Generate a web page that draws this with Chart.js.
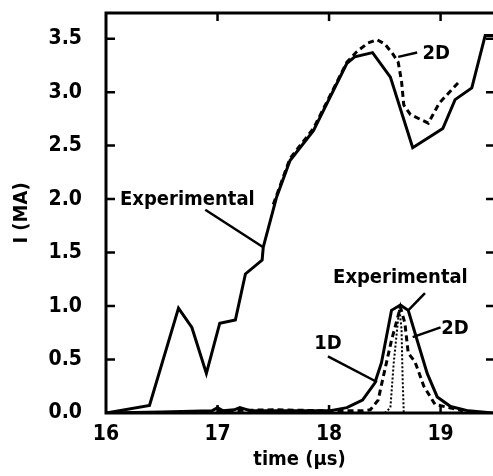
<!DOCTYPE html>
<html>
<head>
<meta charset="utf-8">
<script src="https://cdn.jsdelivr.net/npm/chart.js@4"></script>
<style>
    html, body { margin: 0; padding: 0; background: #fff; overflow: hidden; }
</style>
</head>
<body>
<canvas id="chart" width="493" height="476"></canvas>
<script>
// current, upper curves
const expCurrentTime = [16.0, 16.39, 16.65, 16.77, 16.90, 17.02, 17.16, 17.25, 17.40, 17.41, 17.53, 17.65, 17.86, 18.16, 18.23, 18.39, 18.55, 18.75, 19.02, 19.13, 19.28, 19.40, 19.47];
const expCurrent = [0.0, 0.07, 0.98, 0.80, 0.37, 0.84, 0.87, 1.30, 1.43, 1.55, 2.02, 2.36, 2.64, 3.27, 3.33, 3.37, 3.14, 2.48, 2.66, 2.93, 3.04, 3.53, 3.53];
const sim2dCurrentTime = [17.50, 17.65, 17.86, 18.16, 18.25, 18.35, 18.43, 18.50, 18.57, 18.62, 18.65, 18.67, 18.73, 18.89, 18.99, 19.16];
const sim2dCurrent = [1.95, 2.38, 2.66, 3.28, 3.38, 3.46, 3.49, 3.45, 3.36, 3.28, 3.10, 2.88, 2.79, 2.71, 2.90, 3.09];

// pulse, lower curves
const expPulseTime = [16.0, 16.5, 16.95, 17.0, 17.05, 17.15, 17.2, 17.3, 17.6, 18.0, 18.16, 18.30, 18.41, 18.47, 18.56, 18.64, 18.71, 18.79, 18.88, 18.97, 19.09, 19.25, 19.47];
const expPulse = [0.0, 0.01, 0.02, 0.05, 0.02, 0.03, 0.05, 0.02, 0.02, 0.02, 0.05, 0.12, 0.28, 0.47, 0.96, 1.01, 0.96, 0.68, 0.37, 0.15, 0.06, 0.02, 0.0];
const sim2dPulseTime = [17.0, 17.5, 18.0, 18.30, 18.37, 18.44, 18.48, 18.56, 18.64, 18.68, 18.71, 18.77, 18.85, 18.95, 19.2];
const sim2dPulse = [0.02, 0.03, 0.02, 0.02, 0.03, 0.12, 0.31, 0.68, 0.99, 0.84, 0.56, 0.48, 0.25, 0.08, 0.02];
const sim1dPulseTime = [18.50, 18.55, 18.58, 18.61, 18.63, 18.65, 18.66, 18.67];
const sim1dPulse = [0.0, 0.05, 0.47, 0.78, 0.99, 0.78, 0.31, 0.0];

const xTicks = [16, 17, 18, 19];
const yTicks = [0, 0.5, 1.0, 1.5, 2.0, 2.5, 3.0, 3.5];

// text labels with leader lines, in data units
const notes = [
    {text: 'Experimental', x: 16.73, y: 1.99, from: [16.89, 1.90], to: [17.41, 1.55]},
    {text: '2D', x: 18.96, y: 3.36, from: [18.62, 3.33], to: [18.79, 3.37]},
    {text: 'Experimental', x: 18.64, y: 1.26, from: [18.86, 1.12], to: [18.71, 0.96]},
    {text: '2D', x: 19.13, y: 0.79, from: [19.0, 0.80], to: [18.75, 0.71]},
    {text: '1D', x: 17.99, y: 0.65, from: [17.99, 0.53], to: [18.43, 0.29]}
];

const FONT = '"DejaVu Sans Condensed", "Liberation Sans Narrow", sans-serif';
Chart.defaults.font.family = FONT;
Chart.defaults.color = '#000';

const pts = (xs, ys) => xs.map((x, i) => ({x: x, y: ys[i]}));

const line = (label, xs, ys, dash, width) => ({
    label: label,
    data: pts(xs, ys),
    borderColor: '#000',
    borderWidth: width,
    borderDash: dash,
    pointRadius: 0,
    tension: 0,
    fill: false
});

const frame = {
    id: 'frame',
    afterDatasetsDraw(chart) {
        const ctx = chart.ctx;
        const a = chart.chartArea;
        const xs = chart.scales.x, ys = chart.scales.y;
        ctx.save();
        ctx.strokeStyle = '#000';
        ctx.lineWidth = 3;
        ctx.lineCap = 'square';
        ctx.beginPath();
        ctx.moveTo(a.right, a.top);
        ctx.lineTo(a.left, a.top);
        ctx.lineTo(a.left, a.bottom);
        ctx.lineTo(a.right, a.bottom);
        ctx.stroke();
        ctx.lineWidth = 2.5;
        ctx.lineCap = 'butt';
        ctx.beginPath();
        xTicks.forEach(v => {
            const px = xs.getPixelForValue(v);
            if (v > 16) {
                ctx.moveTo(px, a.top);
                ctx.lineTo(px, a.top + 8);
                ctx.moveTo(px, a.bottom);
                ctx.lineTo(px, a.bottom - 8);
            }
        });
        yTicks.forEach(v => {
            const py = ys.getPixelForValue(v);
            if (v > 0) {
                ctx.moveTo(a.left, py);
                ctx.lineTo(a.left + 9, py);
                ctx.moveTo(a.right - 7, py);
                ctx.lineTo(a.right, py);
            }
        });
        ctx.stroke();

        ctx.font = 'bold 20px ' + FONT;
        ctx.fillStyle = '#000';
        ctx.textAlign = 'center';
        ctx.textBaseline = 'middle';
        ctx.lineWidth = 2.5;
        notes.forEach(n => {
            ctx.fillText(n.text, xs.getPixelForValue(n.x), ys.getPixelForValue(n.y));
            ctx.beginPath();
            ctx.moveTo(xs.getPixelForValue(n.from[0]), ys.getPixelForValue(n.from[1]));
            ctx.lineTo(xs.getPixelForValue(n.to[0]), ys.getPixelForValue(n.to[1]));
            ctx.stroke();
        });
        ctx.restore();
    }
};

new Chart(document.getElementById('chart'), {
    type: 'line',
    data: {
        datasets: [
            line('Experimental', expCurrentTime, expCurrent, [], 3),
            line('2D', sim2dCurrentTime, sim2dCurrent, [6, 4], 3),
            line('Experimental pulse', expPulseTime, expPulse, [], 3),
            line('2D pulse', sim2dPulseTime, sim2dPulse, [6, 4], 3),
            line('1D pulse', sim1dPulseTime, sim1dPulse, [2, 2], 2)
        ]
    },
    options: {
        responsive: false,
        animation: false,
        layout: {padding: {top: 13, right: 0, left: 0, bottom: 0}},
        plugins: {
            legend: {display: false},
            tooltip: {enabled: false}
        },
        scales: {
            x: {
                type: 'linear',
                min: 16,
                max: 19.47,
                afterFit: s => { s.height = 63; s.paddingLeft = 0; s.paddingRight = 0; },
                afterBuildTicks: s => { s.ticks = xTicks.map(v => ({value: v})); },
                grid: {display: false},
                border: {display: false},
                ticks: {
                    padding: 1,
                    font: {size: 21, weight: 'bold'},
                    callback: v => String(v)
                },
                title: {
                    display: true,
                    text: 'time (µs)',
                    font: {size: 20, weight: 'bold'},
                    padding: {top: 0, bottom: 4}
                }
            },
            y: {
                min: 0,
                max: 3.74,
                afterFit: s => { s.width = 106; s.paddingTop = 0; s.paddingBottom = 0; },
                afterBuildTicks: s => { s.ticks = yTicks.map(v => ({value: v})); },
                grid: {display: false},
                border: {display: false},
                ticks: {
                    padding: 16,
                    font: {size: 21, weight: 'bold'},
                    callback: v => v.toFixed(1)
                },
                title: {
                    display: true,
                    text: 'I (MA)',
                    font: {size: 20, weight: 'bold'},
                    padding: {top: 10, bottom: 0}
                }
            }
        }
    },
    plugins: [frame]
});
</script>
</body>
</html>
